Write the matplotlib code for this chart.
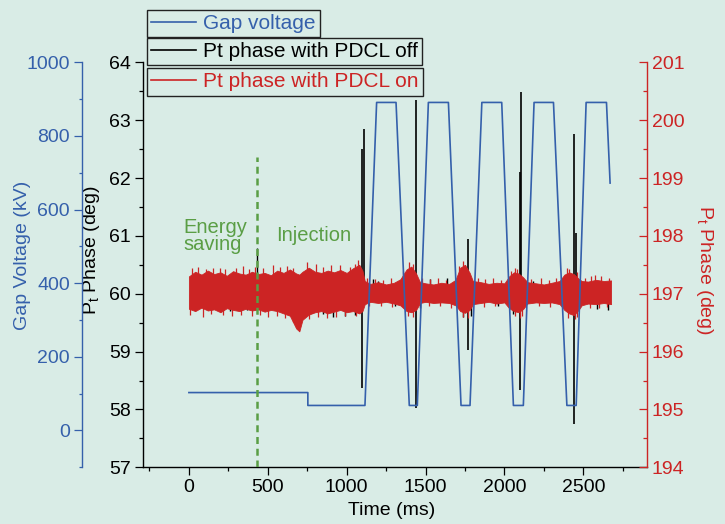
import matplotlib.pyplot as plt
from matplotlib.lines import Line2D
from matplotlib.ticker import MultipleLocator

plt.rcParams["font.family"] = ["Liberation Sans", "DejaVu Sans"]
plt.rcParams["mathtext.default"] = "regular"

BG = "#d9ece6"
BLUE = "#3560ab"
RED = "#cc2424"
GREEN = "#5a9e45"

# gap voltage (kV) vs time (ms), corner points of the waveform
gap_t = [0, 754, 754, 1116, 1190, 1313, 1397, 1448, 1518, 1645, 1725, 1782,
         1857, 1983, 2057, 2120, 2188, 2311, 2396, 2455, 2518, 2647, 2670]
gap_kv = [103, 103, 68, 68, 891, 891, 68, 68, 891, 891, 68, 68,
          891, 891, 68, 68, 891, 891, 68, 68, 891, 891, 672]

# Pt phase with PDCL on (red axis, deg): upper / lower envelope of the noise band
on_t = [0, 40, 80, 120, 160, 200, 240, 280, 320, 360, 400, 440, 480, 520, 560,
        600, 640, 680, 700, 720, 760, 800, 840, 880, 920, 960, 1000, 1040, 1080,
        1100, 1115, 1150, 1200, 1250, 1300, 1340, 1380, 1410, 1440, 1465, 1500,
        1550, 1600, 1650, 1690, 1720, 1750, 1780, 1800, 1850, 1900, 1950, 2000,
        2030, 2060, 2090, 2120, 2145, 2200, 2250, 2300, 2350, 2380, 2410, 2440,
        2470, 2490, 2530, 2580, 2630, 2676]
on_hi = [197.30, 197.38, 197.33, 197.40, 197.34, 197.37, 197.31, 197.39, 197.35,
         197.33, 197.38, 197.34, 197.36, 197.32, 197.40, 197.36, 197.42, 197.35,
         197.33, 197.38, 197.45, 197.38, 197.36, 197.40, 197.37, 197.41, 197.36,
         197.44, 197.50, 197.40, 197.22, 197.17, 197.20, 197.16, 197.19, 197.25,
         197.42, 197.47, 197.35, 197.20, 197.18, 197.16, 197.19, 197.17, 197.24,
         197.45, 197.50, 197.36, 197.22, 197.20, 197.17, 197.19, 197.18, 197.30,
         197.37, 197.35, 197.28, 197.20, 197.18, 197.16, 197.19, 197.22, 197.33,
         197.37, 197.34, 197.26, 197.22, 197.21, 197.24, 197.22, 197.23]
on_lo = [196.74, 196.70, 196.76, 196.71, 196.73, 196.68, 196.75, 196.72, 196.70,
         196.74, 196.71, 196.73, 196.69, 196.72, 196.70, 196.66, 196.62, 196.40,
         196.35, 196.55, 196.64, 196.68, 196.70, 196.66, 196.69, 196.72, 196.68,
         196.70, 196.66, 196.70, 196.82, 196.86, 196.84, 196.86, 196.83, 196.80,
         196.70, 196.68, 196.72, 196.84, 196.86, 196.84, 196.85, 196.84, 196.80,
         196.70, 196.67, 196.72, 196.82, 196.84, 196.86, 196.83, 196.85, 196.75,
         196.70, 196.68, 196.74, 196.83, 196.85, 196.84, 196.85, 196.82, 196.72,
         196.66, 196.63, 196.72, 196.80, 196.83, 196.82, 196.84, 196.82]
# isolated excursions of the red trace beyond the band
on_up_t = [20, 59, 110, 150, 196, 230, 300, 342, 380, 420, 470, 533, 580, 620,
           660, 746, 803, 850, 900, 960, 1020, 1050, 1075,
           1130, 1180, 1230, 1280, 1360, 1395, 1418, 1480, 1530, 1580, 1630,
           1710, 1735, 1752, 1830, 1880, 1930, 1980, 2040, 2065, 2080, 2170,
           2230, 2280, 2330, 2395, 2410, 2460, 2510, 2550, 2575, 2610, 2660]
on_up_y = [197.44, 197.47, 197.43, 197.45, 197.45, 197.42, 197.44, 197.48, 197.43,
           197.46, 197.44, 197.50, 197.46, 197.48, 197.45, 197.55, 197.52, 197.47,
           197.49, 197.50, 197.47, 197.52, 197.58,
           197.28, 197.26, 197.24, 197.27, 197.40, 197.55, 197.52, 197.28, 197.25,
           197.27, 197.24, 197.48, 197.56, 197.50, 197.27, 197.25, 197.27, 197.24,
           197.40, 197.45, 197.42, 197.25, 197.27, 197.24, 197.28, 197.45, 197.43,
           197.38, 197.28, 197.30, 197.32, 197.30, 197.28]
on_dn_t = [10, 91, 140, 215, 271, 330, 400, 450, 503, 560, 610, 660, 760, 820,
           873, 930, 990, 1060,
           1140, 1220, 1290, 1390, 1420, 1520, 1590, 1660, 1740, 1770, 1870,
           1940, 2070, 2100, 2110, 2220, 2290, 2400, 2445, 2460, 2540, 2600, 2650]
on_dn_y = [196.64, 196.60, 196.65, 196.63, 196.62, 196.64, 196.62, 196.64, 196.60,
           196.62, 196.58, 196.52, 196.56, 196.60, 196.58, 196.60, 196.62, 196.62,
           196.78, 196.78, 196.77, 196.62, 196.60, 196.78, 196.78, 196.76, 196.60,
           196.58, 196.77, 196.78, 196.62, 196.58, 196.62, 196.78, 196.77, 196.58,
           196.56, 196.60, 196.76, 196.75, 196.77]

# Pt phase with PDCL off (black axis, deg): spikes and visible excursions
off_spk_t = [1100, 1108, 1440, 1772, 2099, 2107, 2438, 2452]
off_spk_lo = [58.37, 59.90, 58.03, 59.03, 58.34, 59.90, 57.75, 60.00]
off_spk_hi = [62.50, 62.85, 63.35, 60.95, 62.10, 63.48, 62.76, 61.05]
off_dn_t = [186, 260, 366, 524, 640, 778, 850, 913, 989, 1052, 1306, 1465,
            1739, 1790, 1960, 2055, 2436, 2585, 2657]
off_dn_y = [59.72, 59.70, 59.72, 59.73, 59.72, 59.67, 59.65, 59.60, 59.62, 59.64,
            59.78, 59.75, 59.60, 59.62, 59.78, 59.65, 59.70, 59.74, 59.72]
off_up_t = [429, 1167, 1200, 1528, 1634, 2130, 2180]
off_up_y = [60.79, 60.25, 60.22, 60.25, 60.27, 60.24, 60.22]

switch_t = 429

fig = plt.figure(figsize=(7.25, 5.24), dpi=100, facecolor=BG)
ax = fig.add_axes([0.1968, 0.1082, 0.6952, 0.7729])
ax.set_facecolor(BG)
axr = ax.twinx()
axb = ax.twinx()

# black: PDCL off
ax.vlines(off_dn_t, 59.9, off_dn_y, color="black", lw=1.0)
ax.vlines(off_up_t, 60.0, off_up_y, color="black", lw=1.0)
ax.vlines(off_spk_t, off_spk_lo, off_spk_hi, color="black", lw=1.2)
ax.set_xlim(-293, 2902)
ax.set_ylim(57, 64)

# red: PDCL on
axr.fill_between(on_t, on_lo, on_hi, color=RED, lw=0.6)
axr.vlines(on_up_t, 197.0, on_up_y, color=RED, lw=0.9)
axr.vlines(on_dn_t, on_dn_y, 197.0, color=RED, lw=0.9)
axr.set_ylim(194, 201)

# blue: gap voltage
axb.plot(gap_t, gap_kv, color=BLUE, lw=1.2)
axb.set_ylim(-100, 1000)
axb.axvline(switch_t, ymin=0, ymax=0.767, color=GREEN, lw=1.8, dashes=(2.8, 1.9))

ax.text(-36, 61.0, "Energy\nsaving", color=GREEN, fontsize=14.5, ha="left",
        va="center", linespacing=0.85)
ax.text(556, 61.0, "Injection", color=GREEN, fontsize=14.5, ha="left", va="center")

# spines
for s in ["top", "right"]:
    ax.spines[s].set_visible(False)
for s in ["top", "left", "bottom"]:
    axr.spines[s].set_visible(False)
    axb.spines[s].set_visible(False)
axb.spines["right"].set_visible(False)
axb.spines["left"].set_visible(True)
axb.spines["left"].set_position(("outward", 44))
axb.spines["left"].set_color(BLUE)
axb.yaxis.set_ticks_position("left")
axb.yaxis.set_label_position("left")
axr.spines["right"].set_color(RED)
for a in [ax, axr, axb]:
    for sp in a.spines.values():
        sp.set_linewidth(1.0)

ax.xaxis.set_major_locator(MultipleLocator(500))
ax.xaxis.set_minor_locator(MultipleLocator(250))
ax.yaxis.set_major_locator(MultipleLocator(1))
ax.yaxis.set_minor_locator(MultipleLocator(0.5))
axr.yaxis.set_major_locator(MultipleLocator(1))
axr.yaxis.set_minor_locator(MultipleLocator(0.5))
axb.yaxis.set_major_locator(MultipleLocator(200))
axb.yaxis.set_minor_locator(MultipleLocator(100))

ax.tick_params(which="major", direction="out", length=5.5, width=0.9, labelsize=14, pad=3)
ax.tick_params(which="minor", direction="out", length=3, width=0.9)
axr.tick_params(which="major", direction="in", length=6, width=0.9, labelsize=14,
                pad=3.8, colors=RED)
axr.tick_params(which="minor", direction="in", length=3, width=0.9, colors=RED)
axb.tick_params(which="major", direction="out", length=6, width=0.9, labelsize=14,
                pad=2.5, colors=BLUE)
axb.tick_params(which="minor", direction="out", length=2.5, width=0.9, colors=BLUE)

ax.set_xlabel("Time (ms)", fontsize=14, va="center")
ax.xaxis.set_label_coords(0.4946, -0.107)
ax.set_ylabel("P$_t$ Phase (deg)", fontsize=14, va="center")
ax.yaxis.set_label_coords(-0.1006, 0.537)
axr.set_ylabel("P$_t$ Phase (deg)", fontsize=14, color=RED, rotation=270, va="center")
axr.yaxis.set_label_coords(1.1137, 0.487)
axb.set_ylabel("Gap Voltage (kV)", fontsize=14, color=BLUE, va="center")
axb.yaxis.set_label_coords(-0.2375, 0.524)

# three stacked legend boxes
entries = [
    (BLUE, "Gap voltage", 0.9809),
    ("black", "Pt phase with PDCL off", 0.9281),
    (RED, "Pt phase with PDCL on", 0.8697),
]
for col, lab, ytop in entries:
    leg = fig.legend(handles=[Line2D([], [], color=col, lw=1.2)], labels=[lab],
                     loc="upper left", bbox_to_anchor=(0.2032, ytop),
                     bbox_transform=fig.transFigure, fontsize=15, frameon=True,
                     fancybox=False, framealpha=1, facecolor=BG, edgecolor="#222222",
                     borderpad=0.2, borderaxespad=0, handlelength=2.16,
                     handletextpad=0.32, labelcolor=col)
    leg.get_frame().set_linewidth(1.0)

fig.savefig("out.png", dpi=100, facecolor=BG)
